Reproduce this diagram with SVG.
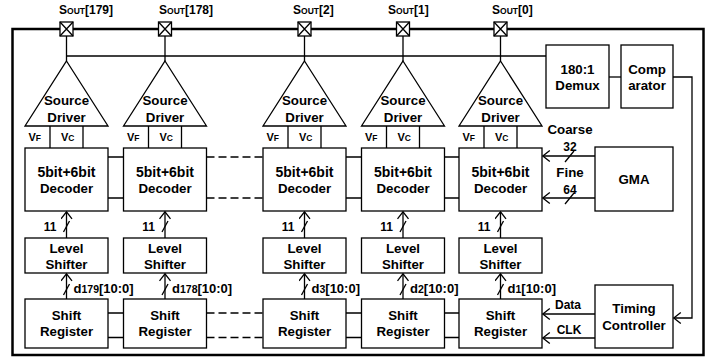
<svg xmlns="http://www.w3.org/2000/svg" width="710" height="358" viewBox="0 0 710 358">
<defs>
<style>
text{font-family:"Liberation Sans",Arial,sans-serif;font-weight:bold;fill:#000}
.t{font-size:13.3px;text-anchor:middle}
.s{font-size:12px}
.box{fill:#fff;stroke:#000;stroke-width:1.3}
.ln{fill:none;stroke:#000;stroke-width:1.3}
.dash{fill:none;stroke:#000;stroke-width:1.3;stroke-dasharray:8,4}
.pad{fill:#fff;stroke:#000;stroke-width:1.3}
</style>
<marker id="ah" markerWidth="10" markerHeight="12" refX="8" refY="6" orient="auto" markerUnits="userSpaceOnUse">
<path d="M1,0.5 L8,6 L1,11.5" fill="none" stroke="#000" stroke-width="1.3"/>
</marker>
<g id="pad"><rect class="pad" x="-6.5" y="-7" width="13" height="14"/><path class="ln" d="M-6.5,-7 L6.5,7 M6.5,-7 L-6.5,7"/></g>
<g id="chan">
<path class="box" d="M0,61 L41.5,126 L-41.5,126 Z"/>
<text class="t" x="0" y="105">Source</text>
<text class="t" x="0" y="121.5">Driver</text>
<path class="ln" d="M-16.5,126 V148 M16.5,126 V148"/>
<text x="-38" y="140.5" font-size="11">V<tspan font-size="8.5">F</tspan></text>
<text x="-5.5" y="140.5" font-size="11">V<tspan font-size="8.5">C</tspan></text>
<rect class="box" x="-41.5" y="148" width="83" height="63"/>
<text class="t" x="0" y="177" style="font-size:14px">5bit+6bit</text>
<text class="t" x="0" y="193">Decoder</text>
<rect class="box" x="-41.5" y="238" width="83" height="35"/>
<text class="t" x="0" y="252.5">Level</text>
<text class="t" x="0" y="268.5">Shifter</text>
<rect class="box" x="-41.5" y="299" width="83" height="49"/>
<text class="t" x="0" y="320">Shift</text>
<text class="t" x="0" y="335.5">Register</text>
<path class="ln" d="M0,238 V211.8" marker-end="url(#ah)"/>
<path class="ln" d="M-3,232 L3,221"/>
<text class="s" x="-10" y="231" text-anchor="end">11</text>
<path class="ln" d="M0,299 V273.8" marker-end="url(#ah)"/>
<path class="ln" d="M-3,295 L3,284"/>
</g>
</defs>
<rect x="0" y="0" width="710" height="358" fill="#fff"/>
<rect x="12.5" y="29" width="691" height="326" fill="none" stroke="#000" stroke-width="2.5"/>

<g id="connectors">
<path class="ln" d="M66.5,56 H546"/>
<path class="ln" d="M66.5,36 V61 M165,36 V61 M304.5,36 V61 M403,36 V61 M500.5,36 V61"/>
<path class="ln" d="M108,157 H123.5 M108,198 H123.5 M346,157 H361.5 M346,198 H361.5 M444,157 H459 M444,198 H459"/>
<path class="dash" d="M206.5,157 H263 M206.5,198 H263"/>
<path class="ln" d="M108,313 H123.5 M108,337.5 H123.5 M346,313 H361.5 M346,337.5 H361.5 M444,313 H459 M444,337.5 H459"/>
<path class="dash" d="M206.5,313 H263 M206.5,337.5 H263"/>
<path class="ln" d="M609,77 H621"/>
<path class="ln" d="M673,77 H692 V318 H673.8" marker-end="url(#ah)"/>
<path class="ln" d="M595,156 H542.8" marker-end="url(#ah)"/>
<path class="ln" d="M565,162 L574,151"/>
<path class="ln" d="M595,198 H542.8" marker-end="url(#ah)"/>
<path class="ln" d="M565,204 L574,193"/>
<path class="ln" d="M595,314 H542.8" marker-end="url(#ah)"/>
<path class="ln" d="M595,338 H542.8" marker-end="url(#ah)"/>
</g>

<g id="pads">
<use href="#pad" x="66.5" y="29"/>
<use href="#pad" x="165" y="29"/>
<use href="#pad" x="304.5" y="29"/>
<use href="#pad" x="403" y="29"/>
<use href="#pad" x="500.5" y="29"/>
<text x="59" y="14" font-size="12">S<tspan font-size="8.5">OUT</tspan>[179]</text>
<text x="159" y="14" font-size="12">S<tspan font-size="8.5">OUT</tspan>[178]</text>
<text x="293" y="14" font-size="12">S<tspan font-size="8.5">OUT</tspan>[2]</text>
<text x="388" y="14" font-size="12">S<tspan font-size="8.5">OUT</tspan>[1]</text>
<text x="492" y="14" font-size="12">S<tspan font-size="8.5">OUT</tspan>[0]</text>
</g>

<g id="ch179"><use href="#chan" x="66.5" y="0"/><text x="73.5" y="293" font-size="13">d<tspan font-size="10.5">179</tspan>[10:0]</text></g>
<g id="ch178"><use href="#chan" x="165" y="0"/><text x="172" y="293" font-size="13">d<tspan font-size="10.5">178</tspan>[10:0]</text></g>
<g id="ch3"><use href="#chan" x="304.5" y="0"/><text x="311.5" y="293" font-size="13">d<tspan font-size="10.5">3</tspan>[10:0]</text></g>
<g id="ch2"><use href="#chan" x="403" y="0"/><text x="410" y="293" font-size="13">d<tspan font-size="10.5">2</tspan>[10:0]</text></g>
<g id="ch1"><use href="#chan" x="500.5" y="0"/><text x="507.5" y="293" font-size="13">d<tspan font-size="10.5">1</tspan>[10:0]</text></g>

<g id="demux"><rect class="box" x="546" y="45" width="63" height="63"/><text class="t" x="577.5" y="74">180:1</text><text class="t" x="577.5" y="89.5">Demux</text></g>
<g id="comparator"><rect class="box" x="621" y="45" width="52" height="63"/><text class="t" x="647" y="74">Comp</text><text class="t" x="647" y="89.5">arator</text></g>
<g id="gma"><rect class="box" x="595" y="147" width="78" height="64"/><text class="t" x="634" y="184">GMA</text></g>
<g id="timing"><rect class="box" x="595" y="285" width="78" height="63"/><text class="t" x="634" y="313">Timing</text><text class="t" x="634" y="330">Controller</text></g>

<g id="labels">
<text class="t" x="570" y="133.5">Coarse</text>
<text class="s" x="570" y="151" text-anchor="middle">32</text>
<text class="t" x="570" y="177">Fine</text>
<text class="s" x="570" y="194" text-anchor="middle">64</text>
<text class="s" x="568" y="309" text-anchor="middle" font-size="12.5">Data</text>
<text class="s" x="569" y="334" text-anchor="middle" font-size="12.5">CLK</text>
</g>
</svg>
